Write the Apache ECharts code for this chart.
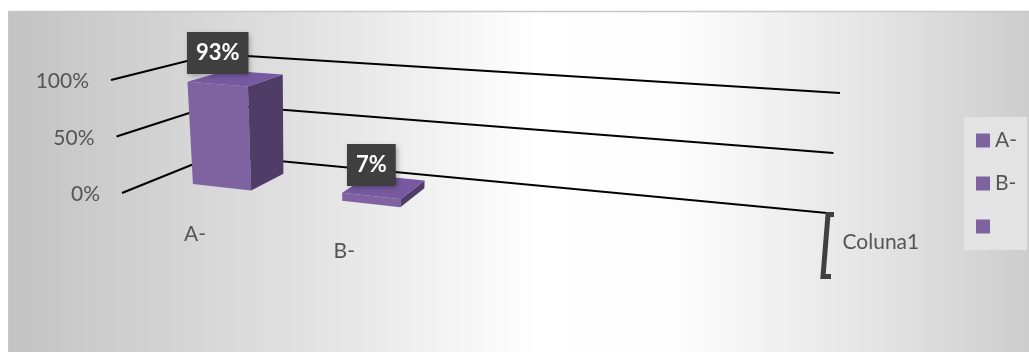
<!DOCTYPE html>
<html><head><meta charset="utf-8">
<script src="https://cdn.jsdelivr.net/npm/echarts@6/dist/echarts.min.js"></script>
<style>html,body{margin:0;padding:0;background:#fff}#c{width:1029px;height:352px}</style>
</head><body><div id="c"></div>
<script>
// ---- data ----
const categories = ['A-', 'B-', ' '];
const values = [0.93, 0.07, null];
const valueTicks = [0, 0.5, 1];
const tickLabels = ['0%', '50%', '100%'];
const depthSeriesName = 'Coluna1';

// ---- layout / style ----
const FONT = 'Lato, "Open Sans", sans-serif';
const TEXT = '#555555';
const FRONT = '#7F63A1', SIDE = '#4F3D68', TOP = '#7659A0';
const BAR_W = 0.39, W0 = 0.35, W1 = 0.75;
// screen corners of the perspective box (u: category, v: value, w: depth)
const FRAME = {
  FL0:[122,193], FL1:[111,80],
  BL0:[216,155], BL1:[215,54],
  BR0:[827,213], BR1:[840,93],
  FR0:[826,278], FR1:[851,143]
};
function P(u, v, w) {
  const a=(1-u)*(1-w), b=u*(1-w), c=(1-u)*w, d=u*w;
  const pt = k => {
    const p0 = a*FRAME.FL0[k]+b*FRAME.FR0[k]+c*FRAME.BL0[k]+d*FRAME.BR0[k];
    const p1 = a*FRAME.FL1[k]+b*FRAME.FR1[k]+c*FRAME.BL1[k]+d*FRAME.BR1[k];
    return p0 + (p1-p0)*v;
  };
  return [pt(0), pt(1)];
}
function normX(api, cs, x){ return (api.coord([x,0])[0]-cs.x)/cs.width; }
function normY(api, cs, y){ return (cs.y+cs.height-api.coord([0,y])[1])/cs.height; }
const pct = v => Math.round(v*100) + '%';

function wallRender(params, api){
  const cs = params.coordSys;
  const t = api.value(1);
  const v = normY(api, cs, t);
  const a = P(0,v,0), b = P(0,v,1), c = P(1,v,1);
  return {type:'group', children:[
    {type:'polyline', shape:{points:[a,b,c]}, style:{stroke:'#000', lineWidth:2, fill:null}},
    {type:'text', style:{text: tickLabels[params.dataIndex], x:a[0]-22, y:a[1]+1.5, align:'right', verticalAlign:'middle', fill:TEXT, font:'21px '+FONT}}
  ]};
}
function catRender(params, api){
  const cs = params.coordSys;
  const i = api.value(0);
  const p = P(normX(api, cs, i), 0, W0);
  return {type:'text', style:{text: categories[i], x:p[0]-27, y:p[1]+47, align:'center', verticalAlign:'middle', fill:TEXT, font:'21px '+FONT}};
}
function barRender(params, api){
  const cs = params.coordSys;
  const i = api.value(0), val = api.value(1);
  const uL = normX(api, cs, i-BAR_W/2), uR = normX(api, cs, i+BAR_W/2), uC = normX(api, cs, i);
  const v = normY(api, cs, val);
  const poly = (pts, fill) => ({type:'polygon', shape:{points:pts}, style:{fill}});
  const lt = P(uC, v, W0);
  return {type:'group', children:[
    poly([P(uL,0,W0),P(uR,0,W0),P(uR,v,W0),P(uL,v,W0)], FRONT),
    poly([P(uR,0,W0),P(uR,0,W1),P(uR,v,W1),P(uR,v,W0)], SIDE),
    poly([P(uL,v,W0),P(uR,v,W0),P(uR,v,W1),P(uL,v,W1)], TOP),
    {type:'text', z2:10, style:{text: pct(val), x:lt[0], y:lt[1]-31, align:'center', verticalAlign:'middle',
      fill:'#fff', font:'bold 22px '+FONT, backgroundColor:'#3f3f3f', padding:[10,9,10,9],
      shadowBlur:5, shadowColor:'rgba(0,0,0,0.3)', shadowOffsetX:2, shadowOffsetY:2}}
  ]};
}
function depthRender(params, api){
  const top = P(1,0,1), bot = P(1,0,0);
  const mid = [(top[0]+bot[0])/2, (top[1]+bot[1])/2];
  return {type:'group', children:[
    {type:'polyline', shape:{points:[[top[0]+7,top[1]+1.5],[top[0]+1,top[1]+1.5],[bot[0]-3,bot[1]-1.5],[bot[0]+5,bot[1]-1.5]]},
      style:{stroke:'#404040', lineWidth:5, fill:null, lineJoin:'miter'}},
    {type:'text', style:{text: depthSeriesName, x:mid[0]+16, y:mid[1]-3, align:'left', verticalAlign:'middle', fill:TEXT, font:'21px '+FONT}}
  ]};
}

const chart = echarts.init(document.getElementById('c'));
const series = [
  {type:'custom', coordinateSystem:'cartesian2d', clip:false, silent:true, z:1,
   data: valueTicks.map(t => [0, t]), renderItem: wallRender},
  {type:'custom', coordinateSystem:'cartesian2d', clip:false, silent:true, z:1,
   data: categories.map((c,i) => [i, 0]), renderItem: catRender},
  {type:'custom', coordinateSystem:'cartesian2d', clip:false, silent:true, z:1,
   data: [[0,0]], renderItem: depthRender}
];
categories.forEach((name, i) => {
  series.push({type:'custom', name, coordinateSystem:'cartesian2d', clip:false, z:3,
    itemStyle:{color:FRONT},
    data: values[i] == null ? [] : [[i, values[i]]], renderItem: barRender});
});

chart.setOption({
  animation:false,
  graphic:[
    {type:'rect', z:-10, shape:{x:8, y:11, width:1021, height:341},
     style:{fill:{type:'linear', x:0, y:0, x2:1, y2:0, colorStops:[
       {offset:0, color:'#c3c3c3'}, {offset:0.28, color:'#e0e0e0'}, {offset:0.52, color:'#ffffff'},
       {offset:0.66, color:'#fcfcfc'}, {offset:0.85, color:'#e4e4e4'}, {offset:1, color:'#cdcdcd'}]}}},
    {type:'line', z:-9, shape:{x1:8, y1:11.5, x2:1029, y2:11.5}, style:{stroke:'#c8c8c8', lineWidth:1.5}},
    {type:'line', z:-9, shape:{x1:8.5, y1:11, x2:8.5, y2:352}, style:{stroke:'#c8c8c8', lineWidth:1}}
  ],
  grid:{left:0, top:0, width:100, height:100, show:false},
  xAxis:{type:'value', min:-0.45, max:4.05, show:false},
  yAxis:{type:'value', min:0, max:1, show:false},
  legend:{data:categories, orient:'vertical', left:964, top:117, padding:[13,10,13,12],
    backgroundColor:'#e3e3e3', itemWidth:14, itemHeight:14, itemGap:22, icon:'rect',
    textStyle:{color:TEXT, fontSize:21, fontFamily:FONT}, selectedMode:false},
  series
});
</script></body></html>
